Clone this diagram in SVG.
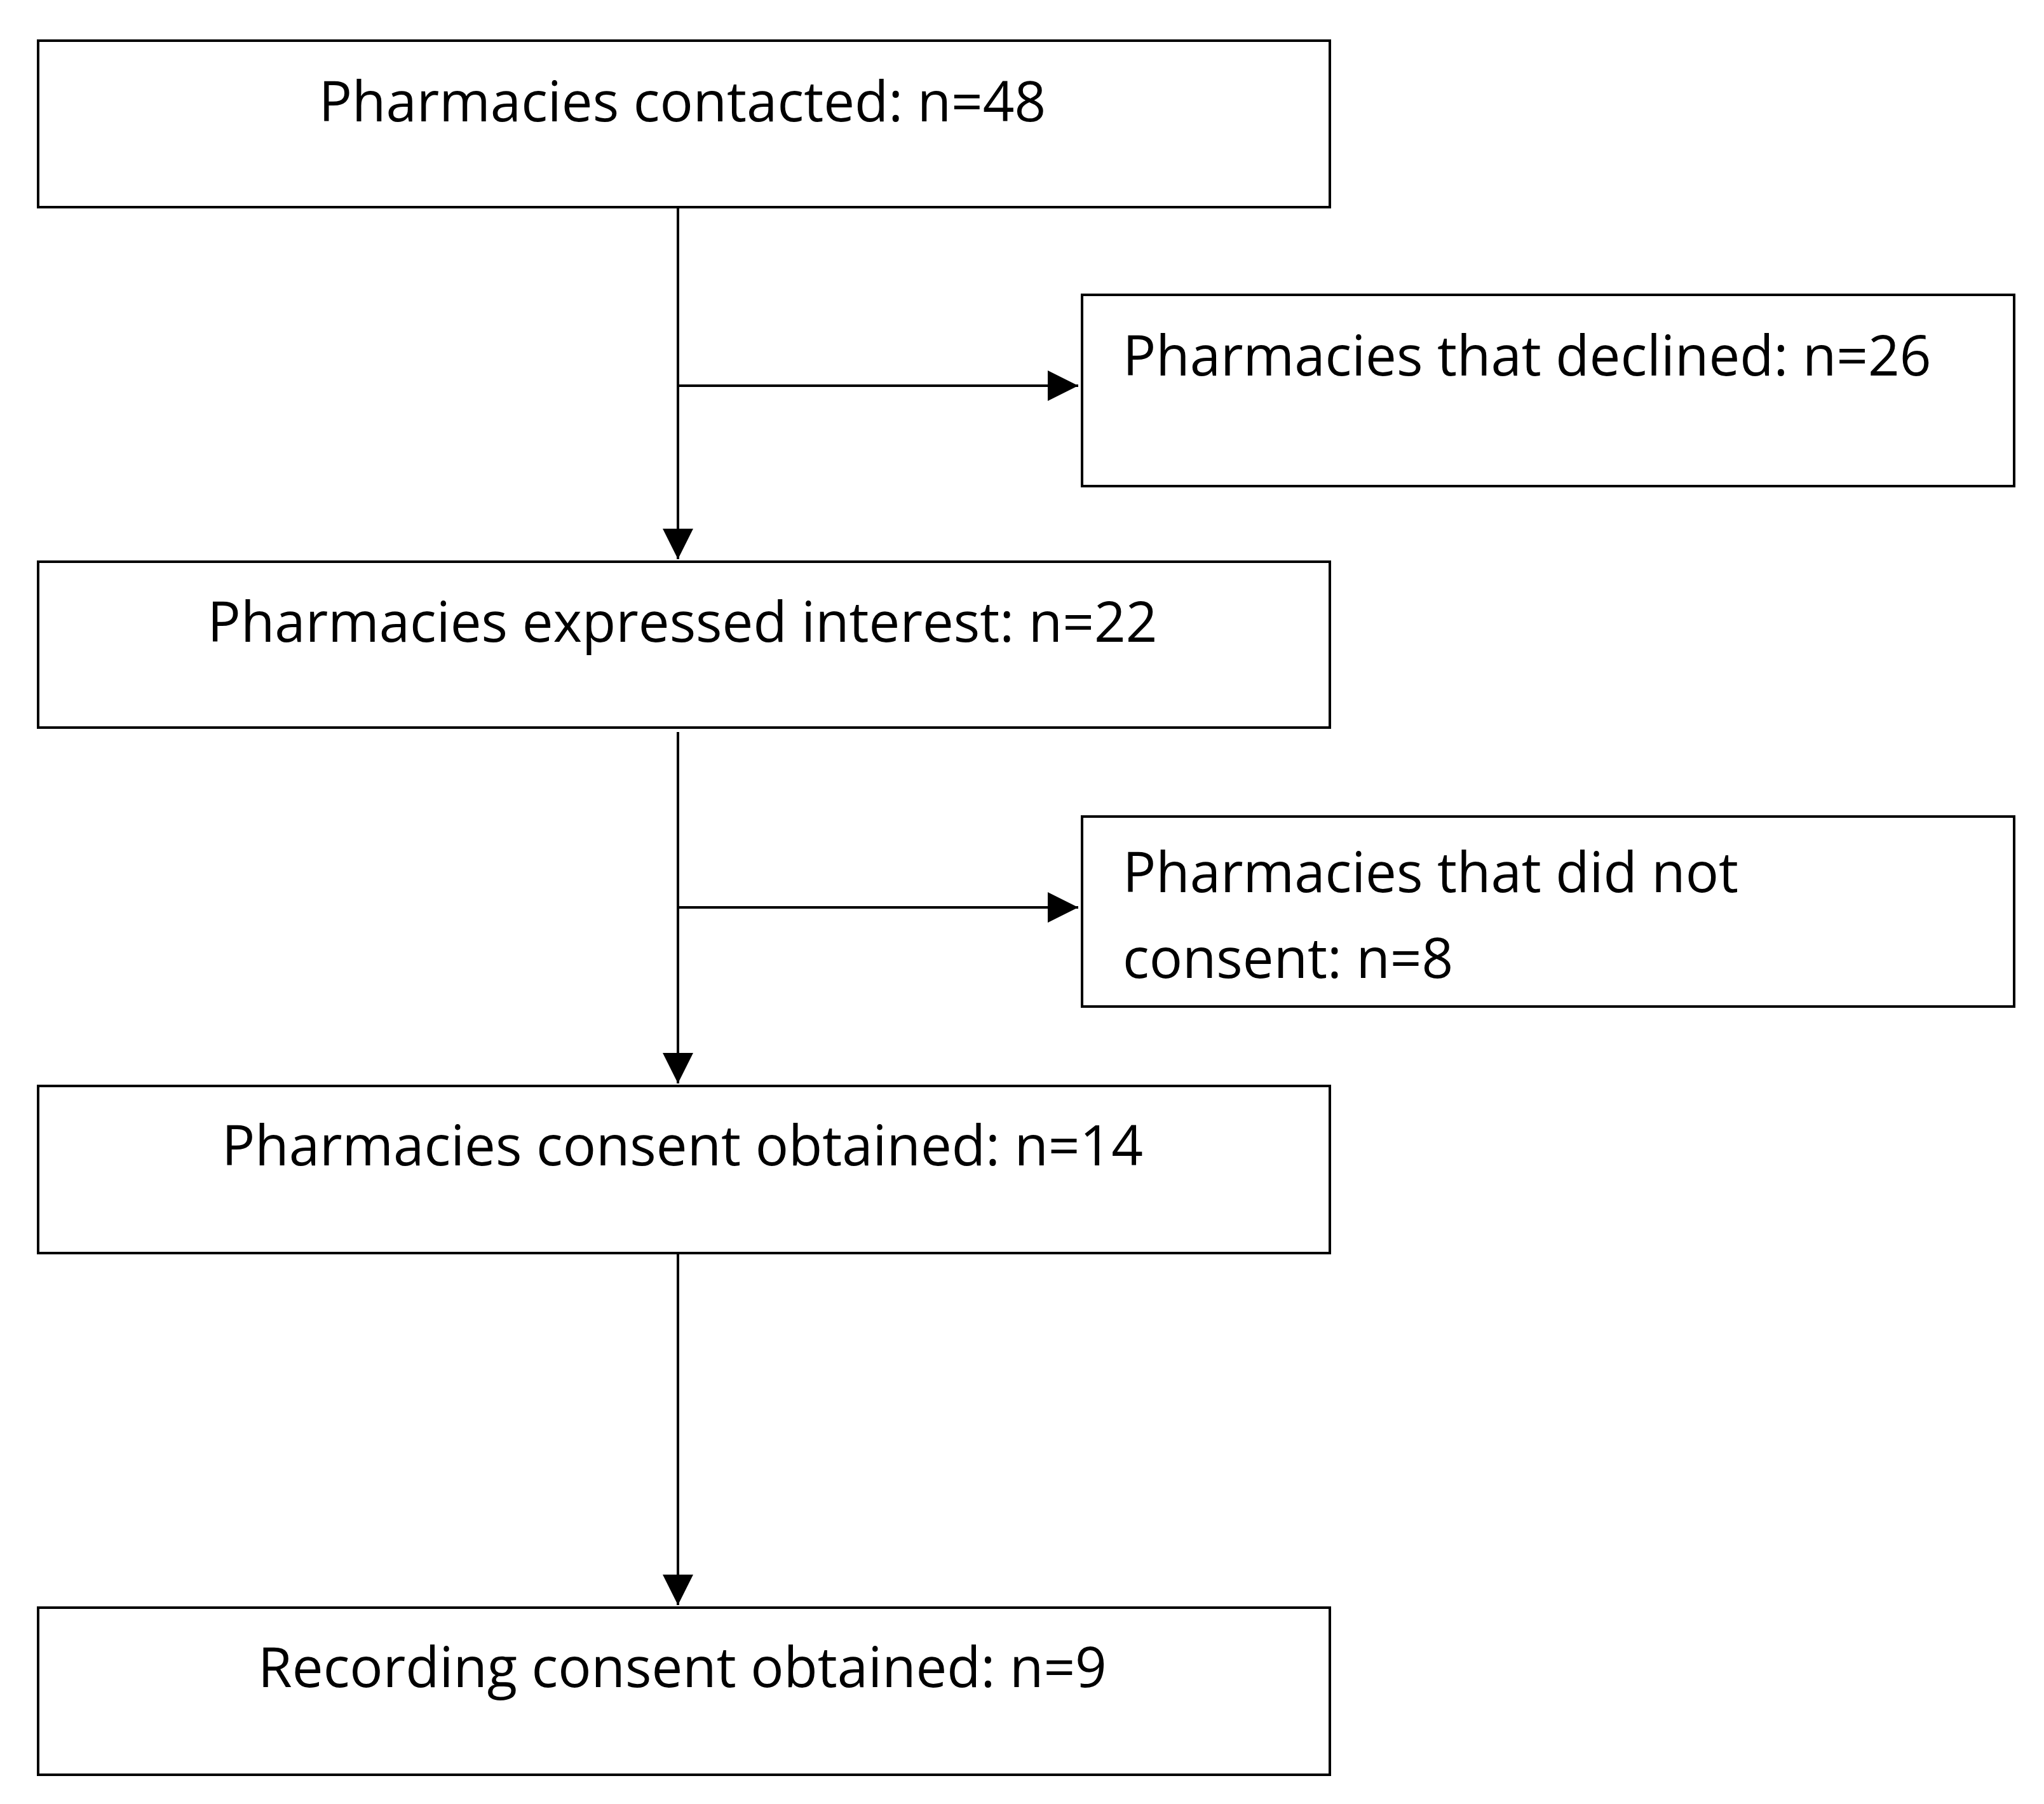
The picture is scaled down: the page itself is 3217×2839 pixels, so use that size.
<svg xmlns="http://www.w3.org/2000/svg" width="3217" height="2839" viewBox="0 0 3217 2839">
<style>
.b{fill:#fff;stroke:#000;stroke-width:4}
.t{font-family:"Open Sans","Noto Sans",sans-serif;font-size:87px;fill:#000}
.c{text-anchor:middle}
.l{stroke:#000;stroke-width:4;fill:none}
</style>
<defs>
<marker id="ah" viewBox="0 0 10 10" refX="10" refY="5" markerWidth="48" markerHeight="48" markerUnits="userSpaceOnUse" orient="auto"><path d="M0,0L10,5L0,10z"/></marker></defs>
<rect width="3217" height="2839" fill="#fff"/>
<g id="connectors">
<path class="l" d="M1067,326V880" marker-end="url(#ah)"/>
<path class="l" d="M1067,607H1697" marker-end="url(#ah)"/>
<path class="l" d="M1067,1152V1705" marker-end="url(#ah)"/>
<path class="l" d="M1067,1428H1697" marker-end="url(#ah)"/>
<path class="l" d="M1067,1972V2526" marker-end="url(#ah)"/>
</g>
<g id="n1"><rect class="b" x="60" y="64" width="2033" height="262"/><text class="t c" x="1074" y="191">Pharmacies contacted: n=48</text></g>
<g id="n2"><rect class="b" x="1703" y="464" width="1467" height="301"/><text class="t" x="1767" y="591">Pharmacies that declined: n=26</text></g>
<g id="n3"><rect class="b" x="60" y="884" width="2033" height="261"/><text class="t c" x="1074" y="1010">Pharmacies expressed interest: n=22</text></g>
<g id="n4"><rect class="b" x="1703" y="1285" width="1467" height="299"/><text class="t" x="1767" y="1404">Pharmacies that did not</text><text class="t" x="1767" y="1539">consent: n=8</text></g>
<g id="n5"><rect class="b" x="60" y="1709" width="2033" height="263"/><text class="t c" x="1074" y="1834">Pharmacies consent obtained: n=14</text></g>
<g id="n6"><rect class="b" x="60" y="2530" width="2033" height="263"/><text class="t c" x="1074" y="2655">Recording consent obtained: n=9</text></g>
</svg>
